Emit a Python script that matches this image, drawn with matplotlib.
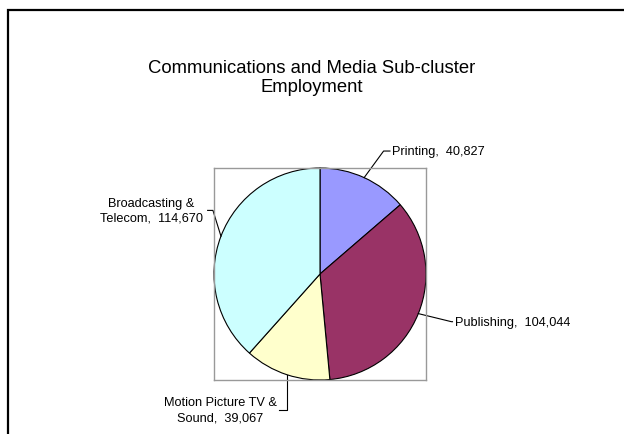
import numpy as np
import matplotlib
matplotlib.use("Agg")
import matplotlib.pyplot as plt
from matplotlib.patches import Rectangle

plt.rcParams['font.family'] = ['Liberation Sans', 'DejaVu Sans']

# Data
categories = ['Printing', 'Publishing', 'Motion Picture TV &\nSound', 'Broadcasting &\nTelecom']
values = [40827, 104044, 39067, 114670]
colors = ['#9999FF', '#993366', '#FFFFCC', '#CCFFFF']

W, H = 624, 435
fig = plt.figure(figsize=(W / 100, H / 100), dpi=100)

# outer chart frame (runs off right/bottom edge like the source)
fig.patches.append(Rectangle((7.5 / W, -0.1), 1.2, (H - 10.5) / H + 0.1,
                             transform=fig.transFigure, fill=False,
                             edgecolor='black', linewidth=1.6))

fig.text(312 / W, 1 - 78 / H, 'Communications and Media Sub-cluster\nEmployment',
         ha='center', va='center', fontsize=13.3, linespacing=1.22)

# plot area square
ax = fig.add_axes([214 / W, (H - 381) / H, 212 / W, 212 / H])
wedges, _ = ax.pie(values, colors=colors, startangle=90, counterclock=False,
                   wedgeprops=dict(edgecolor='black', linewidth=0.8))
ax.set_xlim(-1, 1)
ax.set_ylim(-1, 1)
ax.set_aspect('equal')
ax.set_frame_on(True)
for s in ax.spines.values():
    s.set_edgecolor('#999999')
    s.set_linewidth(1.0)
ax.set_xticks([])
ax.set_yticks([])

# label layout (in pie radius units): elbow point, text anchor, alignment
layout = [
    ((0.60, 1.16), (0.68, 1.16), 'left'),
    ((1.24, -0.45), (1.27, -0.45), 'left'),
    ((-0.312, -1.28), (-0.94, -1.28), 'center'),
    ((-1.01, 0.60), (-1.59, 0.60), 'center'),
]

total = sum(values)
cum = np.cumsum([0] + values) / total
for i, (lab, val) in enumerate(zip(categories, values)):
    mid = 90 - (cum[i] + cum[i + 1]) / 2 * 360
    ex, ey = np.cos(np.radians(mid)), np.sin(np.radians(mid))
    (bx, by), (tx, ty), ha = layout[i]
    if i == 2:
        xs, ys = [ex, ex, ex - 0.07], [ey, by, by]
    elif i == 3:
        xs, ys = [ex, bx, bx - 0.05], [ey, by, by]
    else:
        xs, ys = [ex, bx, tx - 0.02], [ey, by, by]
    ax.plot(xs, ys, color='black', linewidth=0.8, clip_on=False)
    ax.text(tx, ty, f'{lab},  {val:,}', ha=ha, va='center', fontsize=9.2,
            multialignment='center', linespacing=1.3, clip_on=False)

fig.savefig('out.png', dpi=100)
